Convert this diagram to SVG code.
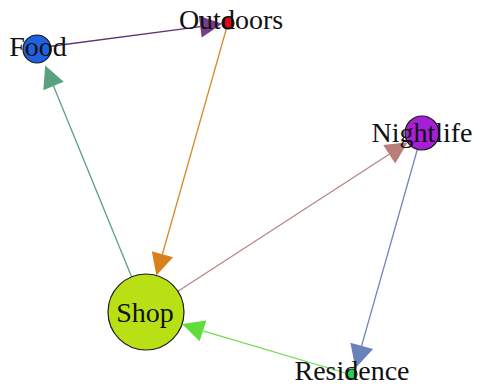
<svg xmlns="http://www.w3.org/2000/svg" width="477" height="386" viewBox="0 0 477 386">
<style>
.lbl{font-family:"Liberation Serif","Times New Roman",serif;font-size:28px;fill:#111;text-anchor:middle}
.nd{stroke:#1a1a1a;stroke-width:1.2}
.e{fill:none;stroke-width:1.3}
</style>
<rect width="477" height="386" fill="#fff"/>
<g id="edges">
  <g id="e-food-outdoors">
    <line class="e" x1="38" y1="48" x2="200.3" y2="26.7" stroke="#5e3373"/>
    <polygon points="222.1,23.8 201.7,37.6 198.9,15.8" fill="#7a3d8c"/>
  </g>
  <g id="e-outdoors-shop">
    <line class="e" x1="228" y1="23" x2="162.4" y2="254.2" stroke="#d8892a"/>
    <polygon points="156.4,275.4 173,257.2 151.8,251.2" fill="#d8811c"/>
  </g>
  <g id="e-shop-food">
    <line class="e" x1="146" y1="312" x2="53.5" y2="86" stroke="#5e9e86"/>
    <polygon points="45.2,65.6 63.7,81.8 43.3,90.2" fill="#5aa27e"/>
  </g>
  <g id="e-shop-nightlife">
    <line class="e" x1="146" y1="312" x2="389.2" y2="154.2" stroke="#b88585"/>
    <polygon points="407.7,142.2 395.2,163.4 383.2,145" fill="#b97e7a"/>
  </g>
  <g id="e-nightlife-residence">
    <line class="e" x1="422" y1="133" x2="361.4" y2="346.6" stroke="#6f84b8"/>
    <polygon points="355.4,368.3 373.1,349.1 350.4,342.7" fill="#6a82bb"/>
  </g>
  <g id="e-residence-shop">
    <line class="e" x1="352" y1="375" x2="203" y2="330.8" stroke="#72dc55"/>
    <polygon points="182.1,323.9 206.4,320.4 199.6,341.2" fill="#5fde3a"/>
  </g>
</g>
<g id="node-food">
  <circle class="nd" cx="37" cy="49" r="14" fill="#1f62e0"/>
  <text class="lbl" x="38" y="56">Food</text>
</g>
<g id="node-outdoors">
  <circle class="nd" cx="228" cy="23" r="6" fill="#e00a14"/>
  <text class="lbl" x="231" y="29">Outdoors</text>
</g>
<g id="node-nightlife">
  <circle class="nd" cx="422" cy="133" r="17" fill="#a61fd6"/>
  <text class="lbl" x="422" y="142">Nightlife</text>
</g>
<g id="node-shop">
  <circle class="nd" cx="146" cy="312" r="38" fill="#b8e014"/>
  <text class="lbl" x="145" y="322">Shop</text>
</g>
<g id="node-residence">
  <circle class="nd" cx="352" cy="374" r="5" fill="#1ed25a"/>
  <text class="lbl" x="352" y="380">Residence</text>
</g>
</svg>
